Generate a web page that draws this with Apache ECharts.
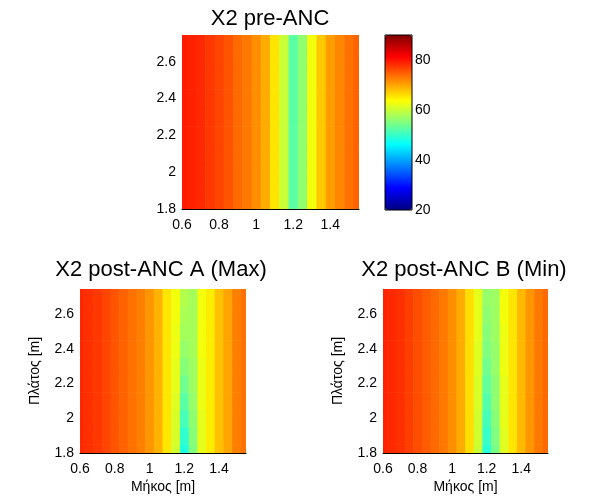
<!DOCTYPE html>
<html>
<head>
<meta charset="utf-8">
<script src="https://cdn.jsdelivr.net/npm/echarts@6/dist/echarts.min.js"></script>
<style>html,body{margin:0;padding:0;background:#fff;}#c{width:600px;height:502px;}</style>
</head>
<body>
<div id="c"></div>
<script>
// ---- data ----
const xCenters = [0.6,0.65,0.7,0.75,0.8,0.85,0.9,0.95,1.0,1.05,1.1,1.15,1.2,1.25,1.3,1.35,1.4,1.45,1.5,1.55];
const yCenters = [1.8,1.9,2.0,2.1,2.2,2.3,2.4,2.5,2.6,2.7];
const xTicks = [0.6,0.8,1,1.2,1.4];
const yTicks = [1.8,2,2.2,2.4,2.6];
const cbarTicks = [20,40,60,80];
const titles = ['X2 pre-ANC','X2 post-ANC A (Max)','X2 post-ANC B (Min)'];

// pre-ANC: uniform along the width axis (same profile in every row)
const preProfile = [79.5,79,78.5,77.5,76.5,75.5,74,73,71.5,69.5,65.5,60,52.5,56,63,67.5,70.5,72,73.5,74.5];

// post-ANC A (Max): rows from y=1.8 (bottom) to y=2.7 (top)
const postA = [
  [78.5,78,77.5,76.5,75.5,74.5,73.5,72.5,71,69,65.5,60.5,48.5,55,62,65,68,70,72.5,73.5],
  [78.5,78,77.5,76.5,75.5,74.5,73.5,72.5,71,69,65.5,61,49.5,55.5,62,65,68,70,72.5,73.5],
  [78.5,78,77.5,76.5,75.5,74.5,73.5,72.5,71,69,65.5,61,51,56,62,65,68,70,72.5,73.5],
  [78.5,78,77.5,76.5,75.5,74.5,73.5,72.5,71,69,65.5,61.5,52.5,56.5,62.5,65,68,70,72.5,73.5],
  [78.5,78,77.5,76.5,75.5,74.5,73.5,72.5,71,69,65.5,62,54,57,62.5,65,68,70,72.5,73.5],
  [78.5,78,77.5,76.5,75.5,74.5,73.5,72.5,71,69,65.5,62,55.5,57,62.5,65,68,70,72.5,73.5],
  [78.5,78,77.5,76.5,75.5,74.5,73.5,72.5,71,69,65.5,62.5,56.5,57.5,63,65,68,70,72.5,73.5],
  [78.5,78,77.5,76.5,75.5,74.5,73.5,72.5,71,69,65.5,62.5,57.5,57.5,63,65,68,70,72.5,73.5],
  [78.5,78,77.5,76.5,75.5,74.5,73.5,72.5,71,69,65.5,63,58,57.5,63,65,68,70,72.5,73.5],
  [78.5,78,77.5,76.5,75.5,74.5,73.5,72.5,71,69,65.5,63,58.5,57.5,63,65,68,70,72.5,73.5]
];

// post-ANC B (Min): rows from y=1.8 (bottom) to y=2.7 (top)
const postB = [
  [79,78.5,78,77,76,75,74,73,71.5,69.5,66,60,49,54.5,61.5,65.5,68.5,71,73,74],
  [79,78.5,78,77,76,75,74,73,71.5,69.5,66,60.5,50,55,61.5,65.5,68.5,71,73,74],
  [79,78.5,78,77,76,75,74,73,71.5,69.5,66,60.5,51,55.5,62,65.5,68.5,71,73,74],
  [79,78.5,78,77,76,75,74,73,71.5,69.5,66,61,52,56,62,65.5,68.5,71,73,74],
  [79,78.5,78,77,76,75,74,73,71.5,69.5,66,61,53,56,62,65.5,68.5,71,73,74],
  [79,78.5,78,77,76,75,74,73,71.5,69.5,66,61.5,54,56.5,62.5,65.5,68.5,71,73,74],
  [79,78.5,78,77,76,75,74,73,71.5,69.5,66,61.5,55,56.5,62.5,65.5,68.5,71,73,74],
  [79,78.5,78,77,76,75,74,73,71.5,69.5,66,62,55.5,57,62.5,65.5,68.5,71,73,74],
  [79,78.5,78,77,76,75,74,73,71.5,69.5,66,62,56,57,63,65.5,68.5,71,73,74],
  [79,78.5,78,77,76,75,74,73,71.5,69.5,66,62,56.5,57,63,65.5,68.5,71,73,74]
];

const colorMin = 20, colorMax = 90;

// ---- build ----
const DX = 0.05, DY = 0.1;
function cells(rows) {
  const out = [];
  rows.forEach((row, j) => row.forEach((v, i) => out.push([xCenters[i], yCenters[j], v])));
  return out;
}
const preRows = yCenters.map(() => preProfile);

const FONT = 'Liberation Sans, Arial, sans-serif';
const jet = ['#000080','#0000ff','#0080ff','#00ffff','#80ff80','#ffff00','#ff8000','#ff0000','#800000'];

function renderItem(params, api) {
  const x = api.value(0), y = api.value(1);
  const p0 = api.coord([x - DX / 2, y + DY / 2]);
  const p1 = api.coord([x + DX / 2, y - DY / 2]);
  const cs = params.coordSys;
  const r = echarts.graphic.clipRectByRect(
    {x: p0[0], y: p0[1], width: p1[0] - p0[0] + 0.6, height: p1[1] - p0[1] + 0.6},
    {x: cs.x, y: cs.y, width: cs.width, height: cs.height});
  return r && {type: 'rect', shape: r, style: {fill: api.visual('color')}};
}

const grids = [
  {left: 182, top: 35, width: 177, height: 174},
  {left: 80, top: 289, width: 166, height: 164},
  {left: 383, top: 289, width: 165, height: 164},
  {left: 385, top: 35, width: 27, height: 175}
];

const labelStyle = {color: '#000', fontSize: 14, fontFamily: FONT};
function xAx(i, withName) {
  return {
    type: 'value', gridIndex: i, min: 0.6, max: 1.555, interval: 0.2, z: 10,
    axisLine: {show: true, lineStyle: {color: '#000', width: 1}},
    axisTick: {show: false}, splitLine: {show: false},
    axisLabel: Object.assign({margin: 9, showMaxLabel: false,
      formatter: v => String(Math.round(v * 10) / 10)}, labelStyle),
    name: withName ? 'Μήκος [m]' : '', nameLocation: 'middle', nameGap: 27,
    nameTextStyle: labelStyle
  };
}
function yAx(i, withName) {
  return {
    type: 'value', gridIndex: i, min: 1.8, max: 2.745, interval: 0.2,
    axisLine: {show: false}, axisTick: {show: false}, splitLine: {show: false},
    axisLabel: Object.assign({margin: 6, showMaxLabel: false,
      formatter: v => String(Math.round(v * 10) / 10)}, labelStyle),
    name: withName ? 'Πλάτος [m]' : '', nameLocation: 'middle', nameGap: 38,
    nameTextStyle: labelStyle
  };
}

const titleCenters = [[270, 19], [161, 270], [464, 270]];

const option = {
  backgroundColor: '#fff',
  animation: false,
  grid: grids,
  xAxis: [xAx(0, false), xAx(1, true), xAx(2, true),
    {type: 'value', gridIndex: 3, show: false, min: 0, max: 1}],
  yAxis: [yAx(0, false), yAx(1, true), yAx(2, true),
    {type: 'value', gridIndex: 3, position: 'right', min: colorMin, max: colorMax, interval: 20,
     axisLine: {show: false}, splitLine: {show: false},
     axisTick: {show: false},
     axisLabel: Object.assign({margin: 3, showMaxLabel: false}, labelStyle)}],
  visualMap: {
    type: 'continuous', min: colorMin, max: colorMax, dimension: 2,
    seriesIndex: [0, 1, 2], calculable: false, realtime: false,
    left: 385, top: 35, itemWidth: 27, itemHeight: 175, padding: 0,
    text: null, showLabel: false,
    inRange: {color: jet}
  },
  series: [
    {type: 'custom', xAxisIndex: 0, yAxisIndex: 0, renderItem, data: cells(preRows), encode: {x: 0, y: 1}},
    {type: 'custom', xAxisIndex: 1, yAxisIndex: 1, renderItem, data: cells(postA), encode: {x: 0, y: 1}},
    {type: 'custom', xAxisIndex: 2, yAxisIndex: 2, renderItem, data: cells(postB), encode: {x: 0, y: 1}}
  ],
  graphic: titleCenters.map((c, k) => ({
    type: 'text', x: c[0], y: c[1], z: 100,
    style: {text: titles[k], fill: '#000', font: '22px ' + FONT, textAlign: 'center', textVerticalAlign: 'middle'}
  })).concat([{
    type: 'rect', z: 100, silent: true,
    shape: {x: 385, y: 35, width: 27, height: 175},
    style: {fill: 'none', stroke: '#000', lineWidth: 1}
  }])
};

const chart = echarts.init(document.getElementById('c'), null, {renderer: 'canvas'});
chart.setOption(option);
</script>
</body>
</html>
